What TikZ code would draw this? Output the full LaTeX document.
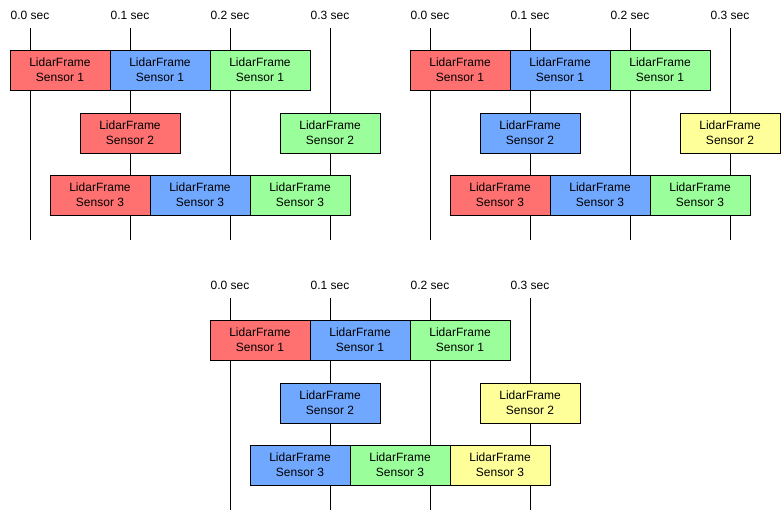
\documentclass[tikz,border=0pt]{standalone}
\usepackage{fontspec}
\setmainfont{Liberation Sans}
\usetikzlibrary{positioning}

\definecolor{framered}{HTML}{FF7171}
\definecolor{frameblue}{HTML}{71A8FF}
\definecolor{framegreen}{HTML}{9AFF9A}
\definecolor{frameyellow}{HTML}{FFFF9A}

\begin{document}
\begin{tikzpicture}[
  x=1pt, y=-1pt,
  frame/.style={draw, line width=1pt, minimum width=100pt, minimum height=40pt,
    inner sep=0pt, outer sep=0pt, align=center, anchor=north west,
    font=\fontsize{12}{15}\selectfont},
  tick/.style={font=\fontsize{12}{14}\selectfont, inner sep=0pt},
  axis/.style={line width=1pt},
]
\useasboundingbox (0,0) rectangle (781,512);

% === PANEL 1 (top left) ===
\begin{scope}[name prefix=A-]
  \foreach \i/\lab in {0/0.0,1/0.1,2/0.2,3/0.3} {
    \node[tick] (t\i) at (30+100*\i,15) {\lab\ sec};
    \coordinate (top\i) at (30+100*\i,28);
    \coordinate (bot\i) at (30+100*\i,240);
    \draw[axis] (top\i) -- (bot\i);
  }
  \node[frame, fill=framered] (s1a) at (10,50) {LidarFrame\\Sensor 1};
  \node[frame, fill=frameblue, right=0pt of s1a] (s1b) {LidarFrame\\Sensor 1};
  \node[frame, fill=framegreen, right=0pt of s1b] (s1c) {LidarFrame\\Sensor 1};
  \node[frame, fill=framered] (s2a) at (80,113) {LidarFrame\\Sensor 2};
  \node[frame, fill=framegreen] (s2b) at (280,113) {LidarFrame\\Sensor 2};
  \node[frame, fill=framered] (s3a) at (50,175) {LidarFrame\\Sensor 3};
  \node[frame, fill=frameblue, right=0pt of s3a] (s3b) {LidarFrame\\Sensor 3};
  \node[frame, fill=framegreen, right=0pt of s3b] (s3c) {LidarFrame\\Sensor 3};
\end{scope}

% === PANEL 2 (top right) ===
\begin{scope}[shift={(400,0)}, name prefix=B-]
  \foreach \i/\lab in {0/0.0,1/0.1,2/0.2,3/0.3} {
    \node[tick] (t\i) at (30+100*\i,15) {\lab\ sec};
    \coordinate (top\i) at (30+100*\i,28);
    \coordinate (bot\i) at (30+100*\i,240);
    \draw[axis] (top\i) -- (bot\i);
  }
  \node[frame, fill=framered] (s1a) at (10,50) {LidarFrame\\Sensor 1};
  \node[frame, fill=frameblue, right=0pt of s1a] (s1b) {LidarFrame\\Sensor 1};
  \node[frame, fill=framegreen, right=0pt of s1b] (s1c) {LidarFrame\\Sensor 1};
  \node[frame, fill=frameblue] (s2a) at (80,113) {LidarFrame\\Sensor 2};
  \node[frame, fill=frameyellow] (s2b) at (280,113) {LidarFrame\\Sensor 2};
  \node[frame, fill=framered] (s3a) at (50,175) {LidarFrame\\Sensor 3};
  \node[frame, fill=frameblue, right=0pt of s3a] (s3b) {LidarFrame\\Sensor 3};
  \node[frame, fill=framegreen, right=0pt of s3b] (s3c) {LidarFrame\\Sensor 3};
\end{scope}

% === PANEL 3 (bottom) ===
\begin{scope}[shift={(200,270)}, name prefix=C-]
  \foreach \i/\lab in {0/0.0,1/0.1,2/0.2,3/0.3} {
    \node[tick] (t\i) at (30+100*\i,15) {\lab\ sec};
    \coordinate (top\i) at (30+100*\i,28);
    \coordinate (bot\i) at (30+100*\i,240);
    \draw[axis] (top\i) -- (bot\i);
  }
  \node[frame, fill=framered] (s1a) at (10,50) {LidarFrame\\Sensor 1};
  \node[frame, fill=frameblue, right=0pt of s1a] (s1b) {LidarFrame\\Sensor 1};
  \node[frame, fill=framegreen, right=0pt of s1b] (s1c) {LidarFrame\\Sensor 1};
  \node[frame, fill=frameblue] (s2a) at (80,113) {LidarFrame\\Sensor 2};
  \node[frame, fill=frameyellow] (s2b) at (280,113) {LidarFrame\\Sensor 2};
  \node[frame, fill=frameblue] (s3a) at (50,175) {LidarFrame\\Sensor 3};
  \node[frame, fill=framegreen, right=0pt of s3a] (s3b) {LidarFrame\\Sensor 3};
  \node[frame, fill=frameyellow, right=0pt of s3b] (s3c) {LidarFrame\\Sensor 3};
\end{scope}
\end{tikzpicture}
\end{document}
